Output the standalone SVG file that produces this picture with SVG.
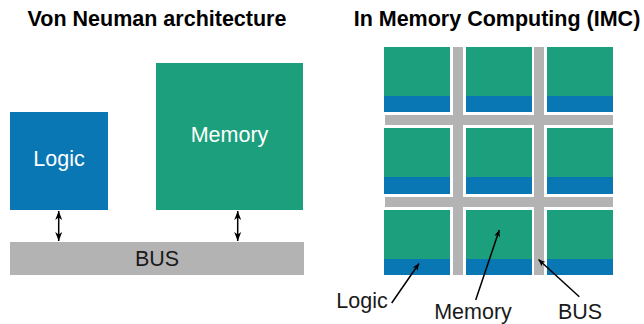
<svg xmlns="http://www.w3.org/2000/svg" width="644" height="324" viewBox="0 0 644 324">
<defs>
<marker id="ah" markerWidth="8" markerHeight="8" refX="7" refY="4" orient="auto-start-reverse" markerUnits="userSpaceOnUse">
<path d="M0,1 L7,4 L0,7 L2,4 Z" fill="#000"/>
</marker>
<marker id="ah2" markerWidth="10" markerHeight="8" refX="9" refY="4" orient="auto-start-reverse" markerUnits="userSpaceOnUse">
<path d="M0,0.5 L9,4 L0,7.5 L2.5,4 Z" fill="#000"/>
</marker>
</defs>
<style>
.t{font-family:"Liberation Sans",Arial,sans-serif;font-size:21.5px}
.title{font-weight:bold;fill:#000}
.w{fill:#fff}
.blue{fill:#0877b4}
.green{fill:#1b9f7c}
.bus{fill:#b3b3b3}
.ln{stroke:#000;stroke-width:1.5;fill:none}
</style>
<text class="t title" x="157" y="26" text-anchor="middle">Von Neuman architecture</text>
<text class="t title" x="497" y="26" text-anchor="middle">In Memory Computing (IMC)</text>

<g id="logic">
<rect class="blue" x="10" y="112" width="98" height="98"/>
<text class="t w" x="59" y="166" text-anchor="middle">Logic</text>
</g>
<g id="memory">
<rect class="green" x="156" y="63" width="147" height="147"/>
<text class="t w" x="229.5" y="142" text-anchor="middle">Memory</text>
</g>
<g id="bus">
<rect class="bus" x="10" y="242" width="294" height="33"/>
<text class="t" x="157" y="266" text-anchor="middle" fill="#1a1a1a">BUS</text>
</g>

<g id="imc-bus">
<rect class="bus" x="453" y="47" width="10" height="228"/>
<rect class="bus" x="534" y="47" width="10" height="228"/>
<rect class="bus" x="385" y="115" width="228" height="10"/>
<rect class="bus" x="385" y="197" width="228" height="10"/>
</g>
<g id="imc-cells">
<rect class="green" x="384" y="47" width="66" height="49"/><rect class="blue" x="384" y="96" width="66" height="16"/>
<rect class="green" x="466" y="47" width="66" height="49"/><rect class="blue" x="466" y="96" width="66" height="16"/>
<rect class="green" x="547" y="47" width="66" height="49"/><rect class="blue" x="547" y="96" width="66" height="16"/>
<rect class="green" x="384" y="128" width="66" height="49"/><rect class="blue" x="384" y="177" width="66" height="17"/>
<rect class="green" x="466" y="128" width="66" height="49"/><rect class="blue" x="466" y="177" width="66" height="17"/>
<rect class="green" x="547" y="128" width="66" height="49"/><rect class="blue" x="547" y="177" width="66" height="17"/>
<rect class="green" x="384" y="210" width="66" height="49"/><rect class="blue" x="384" y="259" width="66" height="16"/>
<rect class="green" x="466" y="210" width="66" height="49"/><rect class="blue" x="466" y="259" width="66" height="16"/>
<rect class="green" x="547" y="210" width="66" height="49"/><rect class="blue" x="547" y="259" width="66" height="16"/>
</g>
<g id="imc-labels">
<text class="t" x="362" y="308" text-anchor="middle" fill="#1a1a1a">Logic</text>
<text class="t" x="473" y="319" text-anchor="middle" fill="#1a1a1a">Memory</text>
<text class="t" x="580" y="319" text-anchor="middle" fill="#1a1a1a">BUS</text>
</g>

<g id="connectors">
<line class="ln" x1="58.7" y1="211" x2="58.7" y2="241" marker-start="url(#ah2)" marker-end="url(#ah2)"/>
<line class="ln" x1="237.7" y1="211" x2="237.7" y2="241" marker-start="url(#ah2)" marker-end="url(#ah2)"/>
<line class="ln" x1="391.7" y1="303" x2="419" y2="263.5" marker-end="url(#ah)"/>
<line class="ln" x1="475.7" y1="300" x2="499.3" y2="230" marker-end="url(#ah)"/>
<line class="ln" x1="579.3" y1="296.7" x2="538.5" y2="259.5" marker-end="url(#ah)"/>
</g>
</svg>
